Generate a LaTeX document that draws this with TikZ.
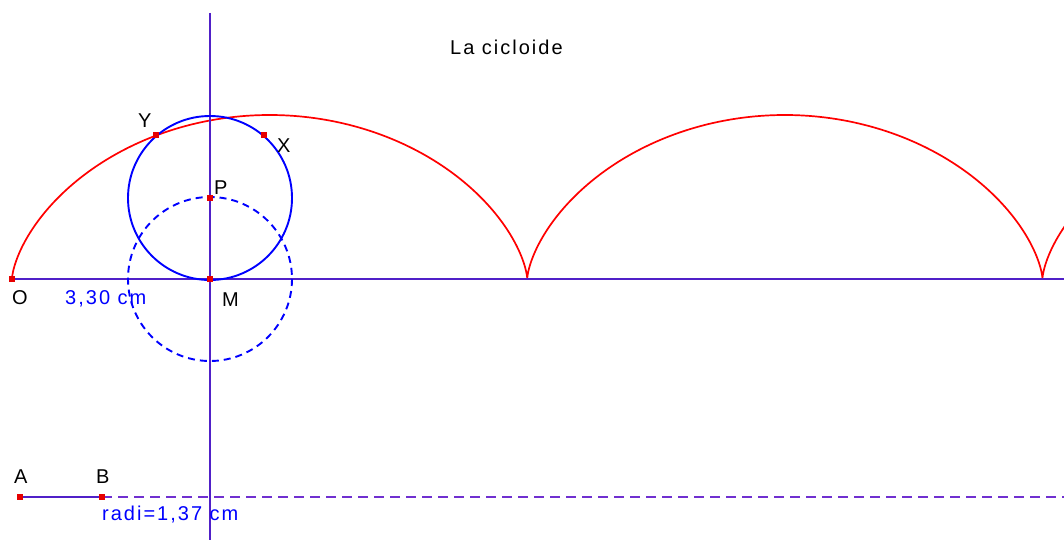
\documentclass[tikz,border=0pt]{standalone}
\usepackage{fontspec}
\setmainfont{Liberation Sans}[LetterSpace=10]
\definecolor{axisc}{RGB}{80,32,200}
\definecolor{dashc}{RGB}{112,48,208}
\definecolor{circc}{RGB}{0,0,255}
\definecolor{cycc}{RGB}{255,0,0}
\definecolor{ptc}{RGB}{230,0,0}
\begin{document}
\begin{tikzpicture}[x=1pt,y=-1pt,
  axis/.style={draw=axisc,line width=1.9pt},
  dline/.style={draw=dashc,line width=1.9pt,dash pattern=on 10pt off 6pt},
  circ/.style={draw=circc,line width=1.9pt},
  dcirc/.style={circ,dash pattern=on 7pt off 5pt},
  cyc/.style={draw=cycc,line width=1.7pt},
  pt/.style={fill=ptc,inner sep=0pt,minimum size=5.5pt,rectangle},
  lbl/.style={font=\fontsize{20}{23}\selectfont,inner sep=0pt,anchor=base west},
  blbl/.style={lbl,text=circc}]
\useasboundingbox (0,0) rectangle (1064,540);
\fill[white] (0,0) rectangle (1064,540);
% named positions
\coordinate (O) at (12,279);
\coordinate (M) at (210,279);
\coordinate (P) at (210,198);
\coordinate (Y) at (156,135);
\coordinate (X) at (264,135);
\coordinate (A) at (20,497);
\coordinate (B) at (102,497);
\coordinate (vtop) at (210,13);
\coordinate (vbot) at (210,540);
\coordinate (hend) at (1064,279);
\coordinate (dend) at (1064,497);
% cycloid
\begin{scope}
\clip (0,0) rectangle (1064,540);
\draw[cyc] plot[domain=0:13.9,samples=400,smooth] ({12+82*(\x - sin(\x r))},{279-82*(1-cos(\x r))});
\end{scope}
% axes
\draw[axis] (O) -- (hend);
\draw[axis] (vtop) -- (vbot);
\draw[axis] (A) -- (B);
\draw[dline] (B) -- (dend);
% circles
\draw[circ] (P) circle[radius=82];
\draw[dcirc] (M) circle[radius=82];
% points
\node[pt] (Opt) at (O) {};
\node[pt] (Mpt) at (M) {};
\node[pt] (Ppt) at (P) {};
\node[pt] (Ypt) at (Y) {};
\node[pt] (Xpt) at (X) {};
\node[pt] (Apt) at (A) {};
\node[pt] (Bpt) at (B) {};
% labels
\node[lbl] (title) at (450,55) {La cicloide};
\node[lbl] (lO) at (12,304) {O};
\node[blbl] (lOM) at (65,304) {3,30 cm};
\node[lbl] (lM) at (222,306) {M};
\node[lbl] (lP) at (214,194) {P};
\node[lbl] (lY) at (138,128) {Y};
\node[lbl] (lX) at (277,153) {X};
\node[lbl] (lA) at (14,483) {A};
\node[lbl] (lB) at (96,483) {B};
\node[blbl] (lr) at (102,520) {radi=1,37 cm};
\end{tikzpicture}
\end{document}
